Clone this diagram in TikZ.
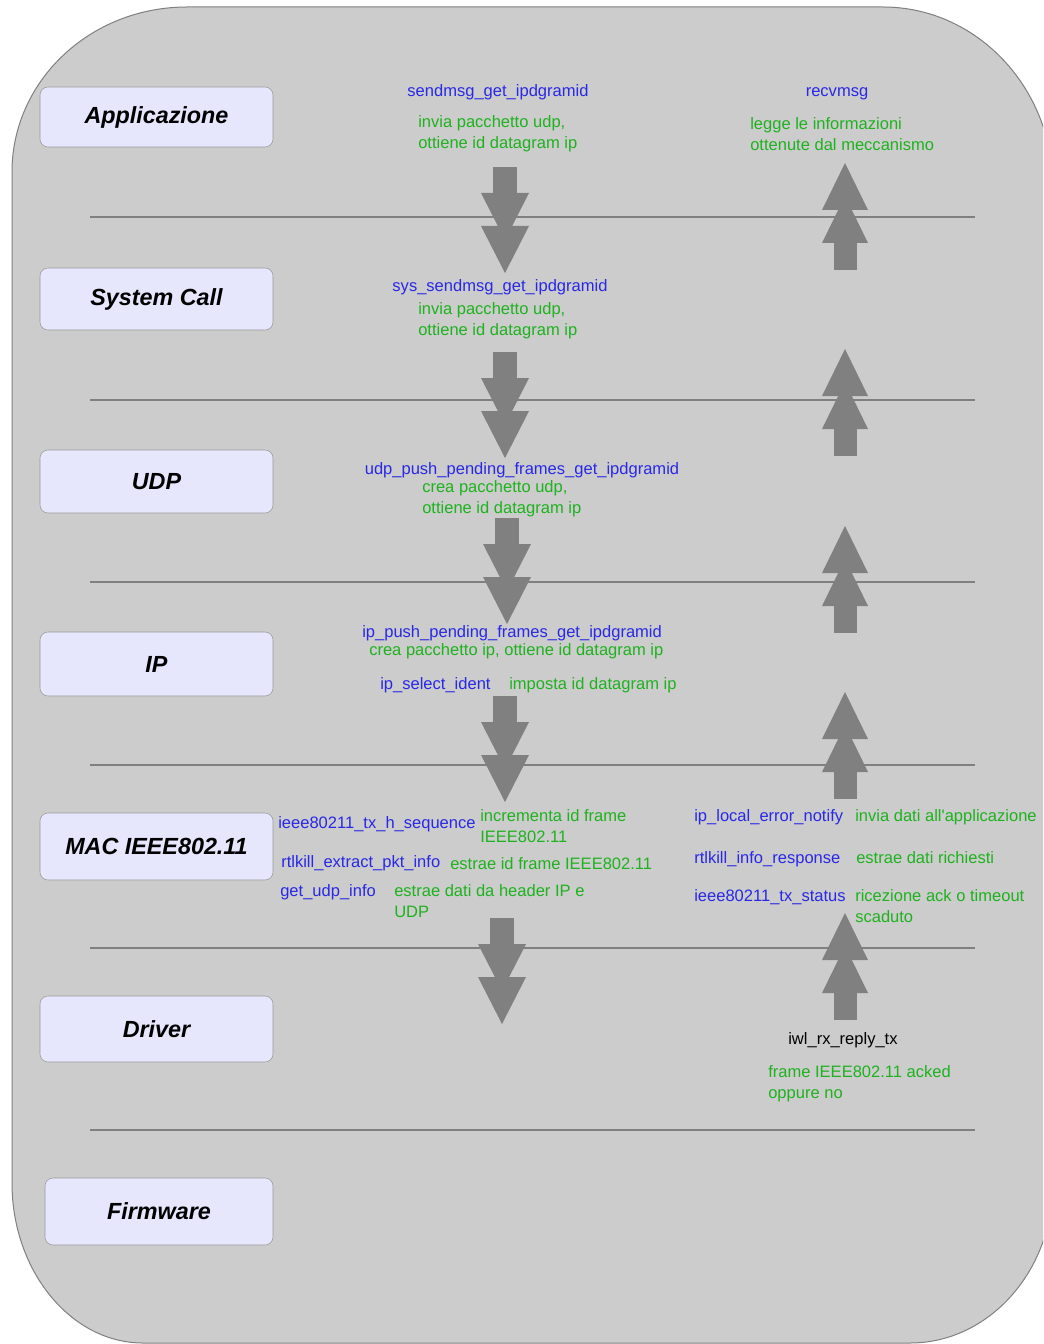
\documentclass[tikz,border=0pt]{standalone}
\usepackage{fontspec}
\setmainfont{Liberation Sans}

\definecolor{panelgray}{RGB}{204,204,204}
\definecolor{boxlavender}{RGB}{230,230,252}
\definecolor{arrowgray}{RGB}{128,128,128}
\definecolor{callblue}{RGB}{40,40,230}
\definecolor{notegreen}{RGB}{30,178,30}

\begin{document}
\begin{tikzpicture}[x=0.75pt, y=-0.75pt,
    layer/.style={draw=gray!80, fill=boxlavender, rounded corners=6pt,
    minimum width=174.75pt, font=\fontsize{17.5}{20}\selectfont\bfseries\itshape},
    call/.style={text=callblue, inner sep=0, text height=9pt, text depth=2.6pt,
    yshift=-1.2pt, font=\fontsize{12.4}{15.75}\selectfont},
    note/.style={text=notegreen, inner sep=0, align=left, yshift=-1.2pt,
    font=\fontsize{12.4}{15.75}\selectfont},
    sep/.style={draw=arrowgray, line width=1pt}]

    \useasboundingbox (0,0) rectangle (1043,1344);
    \clip (0,0) rectangle (1043,1344);

    % Panel
    \fill[panelgray, draw=gray, line width=0.75pt] (12,172)
    .. controls (12,81) and (90,7) .. (187,7) -- (883,7)
    .. controls (977,7) and (1053,88) .. (1053,187) -- (1053,1183)
    .. controls (1053,1271) and (989,1343) .. (910,1343) -- (143,1343)
    .. controls (71,1343) and (12,1271) .. (12,1183) -- cycle;

    % Layer borders
    \foreach \y in {217,400,582,765,948,1130}
    \draw[sep] (90,\y) -- (975,\y);

    % Arrows down
    \foreach \c/\t in {505/167, 505/352, 507/518, 505/696, 502/918} {
        \fill[arrowgray] (\c-12,\t) rectangle (\c+12,\t+27);
        \fill[arrowgray] (\c-24,\t+26) -- (\c+24,\t+26) -- (\c,\t+73) -- cycle;
        \fill[arrowgray] (\c-24,\t+59) -- (\c+24,\t+59) -- (\c,\t+106) -- cycle;
    }

    % Arrows up
    \foreach \c/\t in {845/163, 845/349, 845/526, 845/692, 845/913} {
        \fill[arrowgray] (\c,\t) -- (\c+23,\t+47) -- (\c-23,\t+47) -- cycle;
        \fill[arrowgray] (\c,\t+33) -- (\c+23,\t+80) -- (\c-23,\t+80) -- cycle;
        \fill[arrowgray] (\c-11.5,\t+79) rectangle (\c+11.5,\t+107);
    }

    % Layers
    \node[layer, minimum height=45pt] (App) at (156.5,117) {Applicazione};
    \node[layer, minimum height=46.5pt] (SysCall) at (156.5,299) {System Call};
    \node[layer, minimum height=47.25pt] (UDP) at (156.5,481.5) {UDP};
    \node[layer, minimum height=48pt] (IP) at (156.5,664) {IP};
    \node[layer, minimum height=50.25pt] (MAC) at (156.5,846.5) {MAC IEEE802.11};
    \node[layer, minimum height=49.5pt] (Driver) at (156.5,1029) {Driver};
    \node[layer, minimum height=50.25pt, minimum width=171pt] (Firmware)
    at (159,1211.5) {Firmware};

    % Sending side
    \node[call] (sendmsg) at (498,91) {sendmsg\_get\_ipdgramid};
    \node[note, anchor=west] (sendmsgnote) at (418,132.5)
    {invia pacchetto udp,\\ottiene id datagram ip};
    \node[call] (syssendmsg) at (500,286) {sys\_sendmsg\_get\_ipdgramid};
    \node[note, anchor=west] (syssendmsgnote) at (418,319)
    {invia pacchetto udp,\\ottiene id datagram ip};
    \node[call] (udppush) at (522,469) {udp\_push\_pending\_frames\_get\_ipdgramid};
    \node[note, anchor=west] (udppushnote) at (422,497)
    {crea pacchetto udp,\\ottiene id datagram ip};
    \node[call, anchor=west] (ippush) at (362,632)
    {ip\_push\_pending\_frames\_get\_ipdgramid};
    \node[note, anchor=west] (ippushnote) at (369,650)
    {crea pacchetto ip, ottiene id datagram ip};
    \node[call, anchor=west] (ipselect) at (380,684) {ip\_select\_ident};
    \node[note, anchor=west] (ipselectnote) at (509,684) {imposta id datagram ip};
    \node[call, anchor=west] (txhseq) at (278,823) {ieee80211\_tx\_h\_sequence};
    \node[note, anchor=west] (txhseqnote) at (480,824) {incrementa id frame\\IEEE802.11};
    \node[call, anchor=west] (extract) at (281,862) {rtlkill\_extract\_pkt\_info};
    \node[note, anchor=west] (extractnote) at (450,862) {estrae id frame IEEE802.11};
    \node[call, anchor=west] (udpinfo) at (280,891) {get\_udp\_info};
    \node[note, anchor=west] (udpinfonote) at (394,899)
    {estrae dati da header IP e\\UDP};

    % Receiving side
    \node[call] (recvmsg) at (837,91) {recvmsg};
    \node[note, anchor=west] (recvmsgnote) at (750,132.5)
    {legge le informazioni\\ottenute dal meccanismo};
    \node[call, anchor=west] (errnotify) at (694,816) {ip\_local\_error\_notify};
    \node[note, anchor=west] (errnotifynote) at (855,816)
    {invia dati all\textquotesingle applicazione};
    \node[call, anchor=west] (inforesp) at (694,858) {rtlkill\_info\_response};
    \node[note, anchor=west] (inforespnote) at (856,856) {estrae dati richiesti};
    \node[call, anchor=west] (txstatus) at (694,896) {ieee80211\_tx\_status};
    \node[note, anchor=west] (txstatusnote) at (855,904)
    {ricezione ack o timeout\\scaduto};
    \node[call, anchor=west, text=black] (replytx) at (788,1039) {iwl\_rx\_reply\_tx};
    \node[note, anchor=west] (replytxnote) at (768,1082)
    {frame IEEE802.11 acked\\oppure no};

\end{tikzpicture}
\end{document}
